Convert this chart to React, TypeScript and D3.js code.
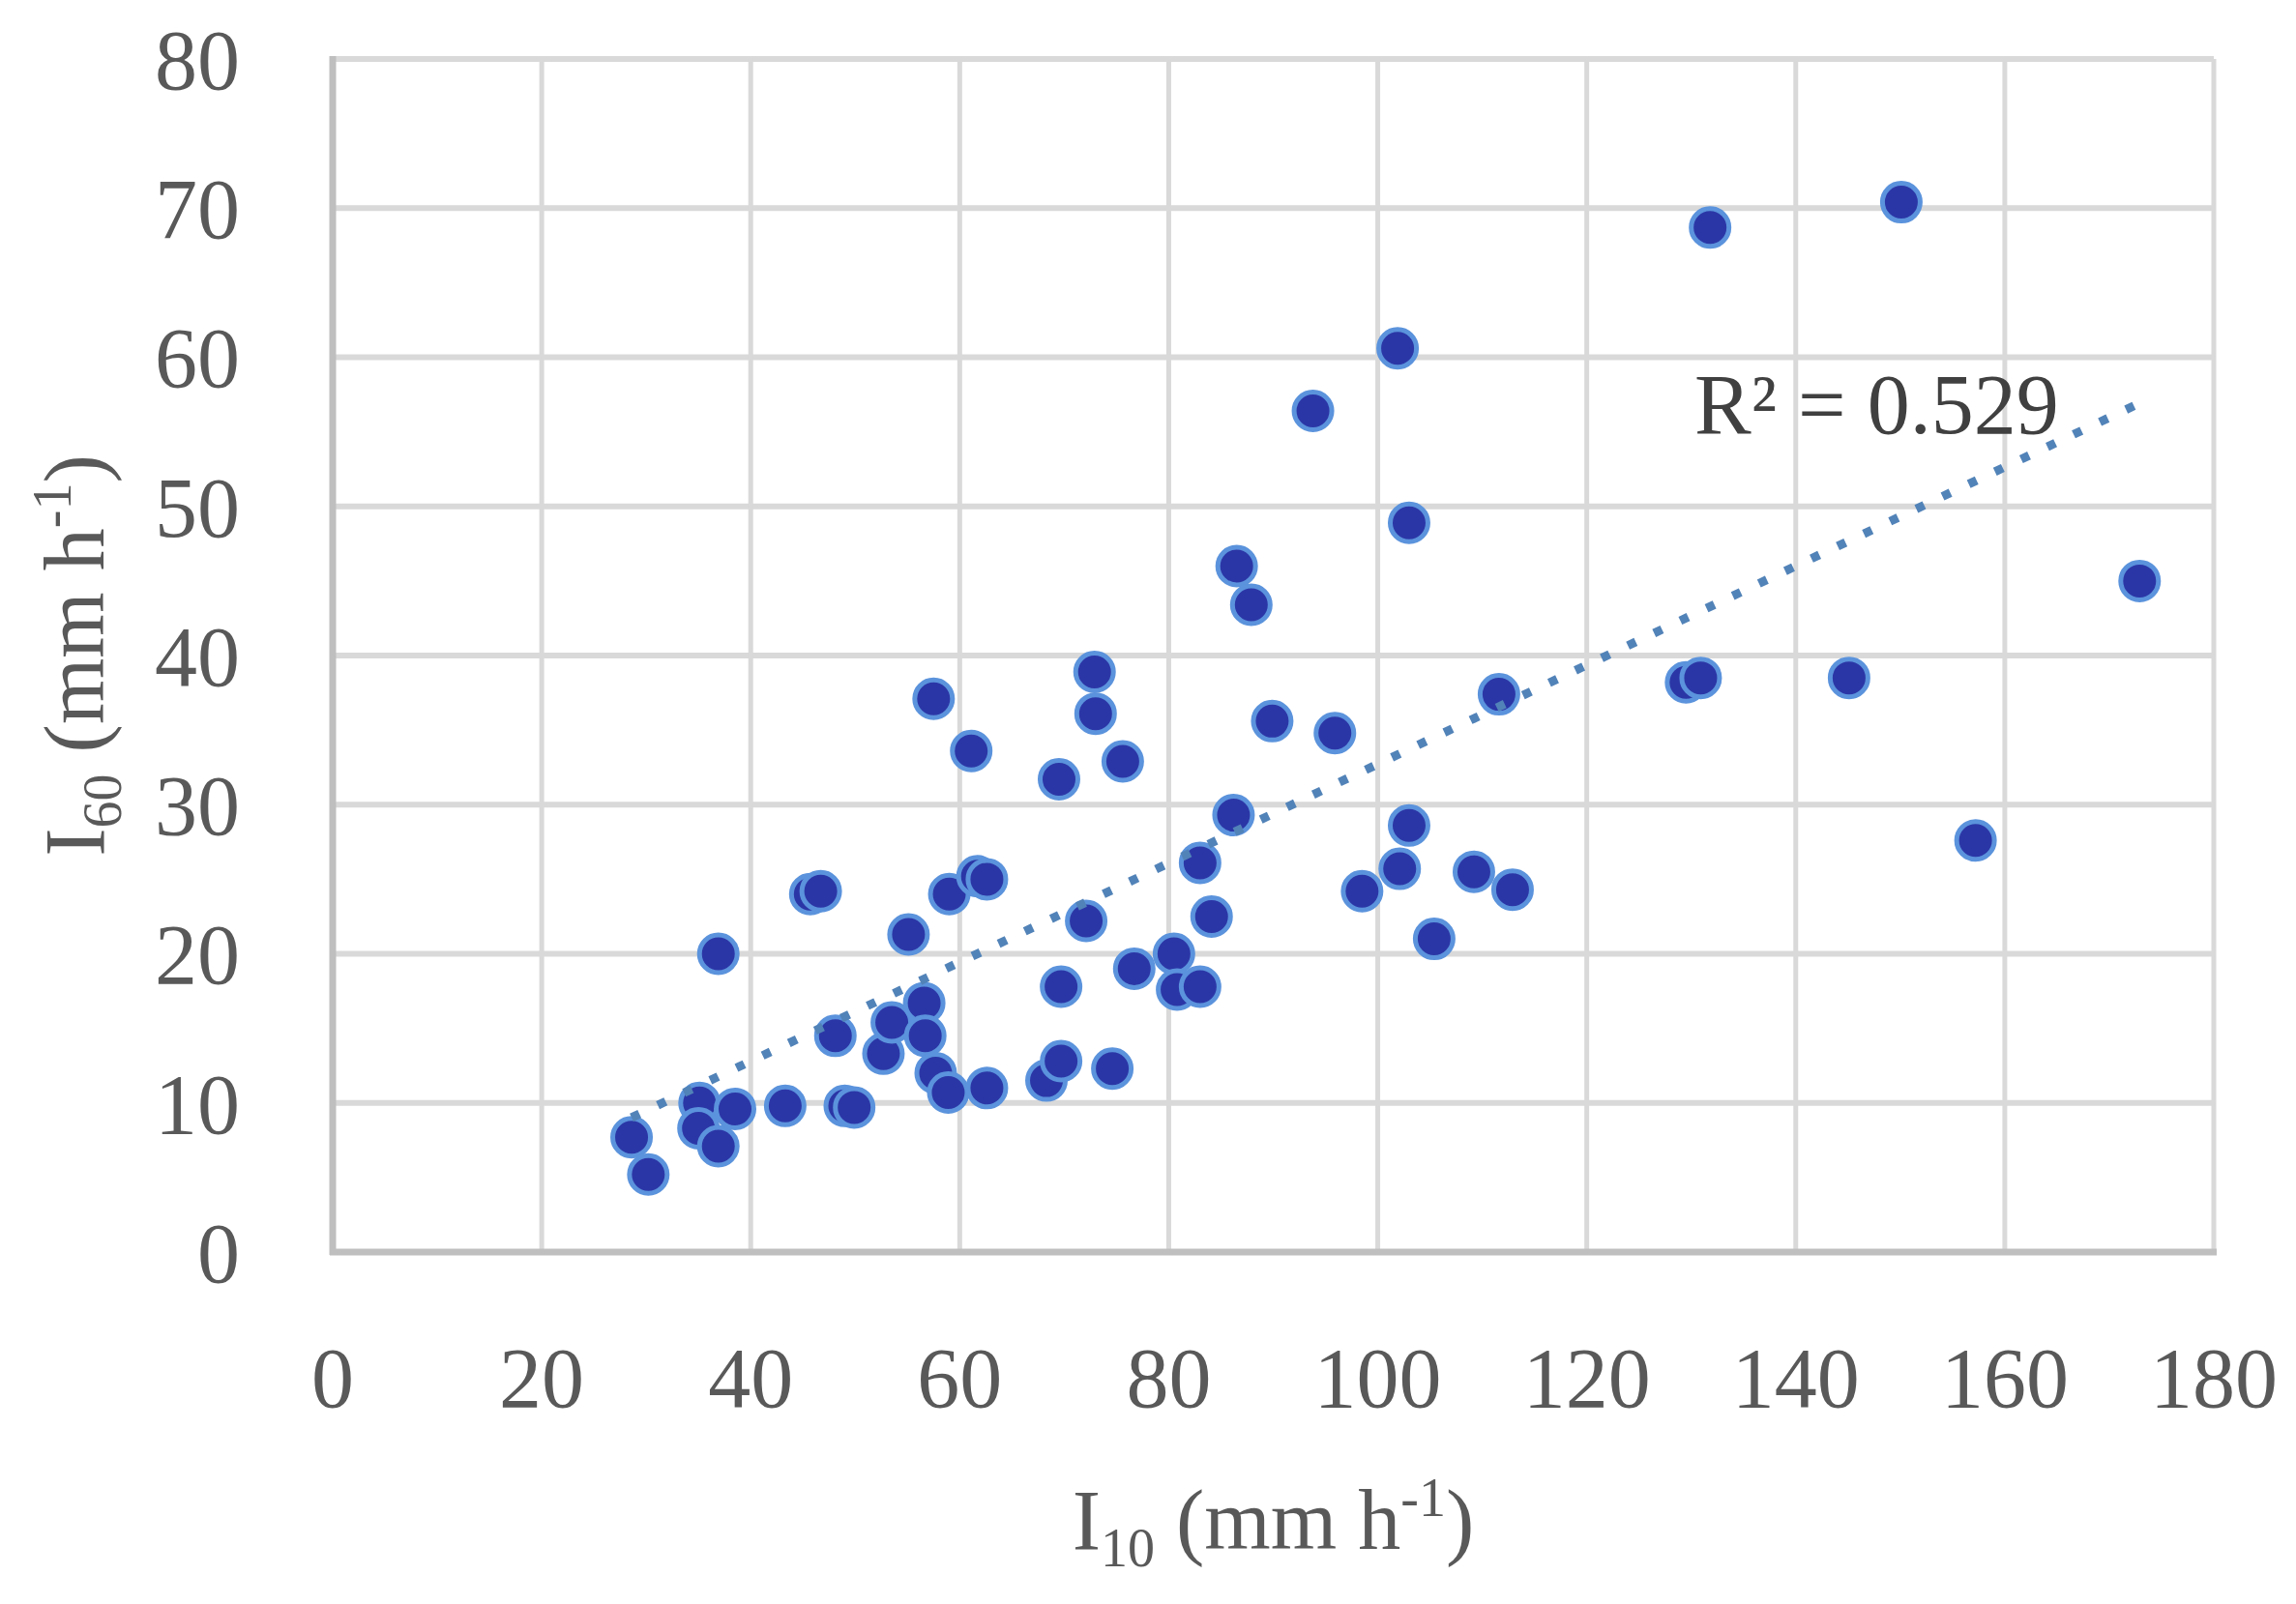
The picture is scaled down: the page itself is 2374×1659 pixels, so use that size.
import * as d3 from 'd3';

const WIDTH = 2374;
const HEIGHT = 1659;
const MARGIN = { top: 61, right: 85, bottom: 364, left: 344 };

// I10 (mm h-1) of each event
const i10Values = [
  28.6, 30.2, 35.1, 35.0, 36.9, 38.5, 36.9, 43.3, 45.7, 46.7,
  48.1, 49.0, 49.9, 52.7, 53.5, 55.1, 56.6, 56.7, 57.7, 57.5,
  58.9, 59.0, 61.1, 61.7, 62.6, 62.6, 68.3, 69.5, 69.7, 69.7,
  72.1, 72.9, 73.0, 74.6, 75.6, 76.7, 80.5, 80.8, 83.0, 83.0,
  84.1, 86.2, 86.5, 87.9, 89.9, 93.8, 95.9, 98.5, 101.9, 102.1,
  103.0, 103.0, 105.4, 109.2, 111.6, 112.9, 129.5, 130.9, 131.8, 145.1,
  150.1, 157.2, 172.9,
];

// I60 (mm h-1) of the same events
const i60Values = [
  7.7, 5.2, 10.0, 8.3, 7.1, 9.6, 20.0, 9.8, 24.0, 24.2,
  14.5, 9.8, 9.7, 13.3, 15.4, 21.3, 16.7, 14.5, 12.0, 37.1,
  10.7, 24.0, 33.6, 25.2, 25.0, 11.0, 11.5, 31.7, 17.8, 12.8,
  22.2, 38.9, 36.1, 12.3, 32.9, 19.0, 20.0, 17.6, 17.8, 26.1,
  22.5, 29.3, 46.0, 43.4, 35.6, 56.4, 34.8, 24.2, 60.6, 25.7,
  48.9, 28.6, 21.0, 25.5, 37.4, 24.3, 38.2, 38.5, 68.7, 38.5,
  70.4, 27.6, 45.0,
];

const xTicks = [0, 20, 40, 60, 80, 100, 120, 140, 160, 180];
const yTicks = [0, 10, 20, 30, 40, 50, 60, 70, 80];
const r2Label = 'R² = 0.529';

// linear trendline (y = a*x + b)
const trendSlope = 0.332;
const trendIntercept = -0.48;

const FONT = '"Palatino Linotype", "Book Antiqua", Palatino, "Liberation Serif", serif';

export default function App() {
  const xScale = d3
    .scaleLinear()
    .domain([0, 180])
    .range([MARGIN.left, WIDTH - MARGIN.right]);
  const yScale = d3
    .scaleLinear()
    .domain([0, 80])
    .range([HEIGHT - MARGIN.bottom, MARGIN.top]);

  const points = i10Values.map((x, i) => ({ x, y: i60Values[i] }));

  const [xMin, xMax] = d3.extent(i10Values) as [number, number];
  const trendPath = d3
    .line<number>()
    .x((d) => xScale(d))
    .y((d) => yScale(trendSlope * d + trendIntercept))([xMin, xMax]);

  const x0 = xScale(0);
  const x1 = xScale(180);
  const y0 = yScale(0);
  const y1 = yScale(80);

  return (
    <svg
      width={WIDTH}
      height={HEIGHT}
      style={{ position: 'absolute', left: 0, top: 0, background: '#fff' }}
    >
      {/* grid */}
      {yTicks.map((t) => (
        <line key={'gy' + t} x1={x0} x2={x1} y1={yScale(t)} y2={yScale(t)} stroke="#d9d9d9" strokeWidth={6} />
      ))}
      {xTicks.map((t) => (
        <line key={'gx' + t} x1={xScale(t)} x2={xScale(t)} y1={y1} y2={y0} stroke="#d9d9d9" strokeWidth={5} />
      ))}
      {/* axis lines */}
      <line x1={x0} x2={x0} y1={y1 - 3} y2={y0 + 3} stroke="#bfbfbf" strokeWidth={7} />
      <line x1={x0 - 3} x2={x1 + 3} y1={y0} y2={y0} stroke="#bfbfbf" strokeWidth={7} />

      {/* markers */}
      {points.map((p, i) => (
        <circle
          key={i}
          cx={xScale(p.x)}
          cy={yScale(p.y)}
          r={19.5}
          fill="#2b36a6"
          stroke="#5b93dc"
          strokeWidth={5}
        />
      ))}

      {/* trend line */}
      <path d={trendPath!} fill="none" stroke="#5283b8" strokeWidth={9} strokeDasharray="9 21" />

      {/* tick labels */}
      {xTicks.map((t) => (
        <text
          key={'tx' + t}
          x={xScale(t)}
          y={1455}
          textAnchor="middle"
          fontFamily={FONT}
          fontSize={88}
          fill="#595959"
        >
          {t}
        </text>
      ))}
      {yTicks.map((t) => (
        <text
          key={'ty' + t}
          x={248}
          y={yScale(t)}
          dy="0.35em"
          textAnchor="end"
          fontFamily={FONT}
          fontSize={88}
          fill="#595959"
        >
          {t}
        </text>
      ))}

      {/* axis titles */}
      <text x={(x0 + x1) / 2} y={1602} textAnchor="middle" fontFamily={FONT} fontSize={88} fill="#595959">
        I<tspan fontSize={56} dy={18}>10</tspan>
        <tspan dy={-18}> (mm h</tspan>
        <tspan fontSize={56} dy={-34}>-1</tspan>
        <tspan dy={34}>)</tspan>
      </text>
      <text
        transform={`translate(107,${(y0 + y1) / 2}) rotate(-90)`}
        textAnchor="middle"
        fontFamily={FONT}
        fontSize={88}
        fill="#595959"
      >
        I<tspan fontSize={56} dy={18}>60</tspan>
        <tspan dy={-18}> (mm h</tspan>
        <tspan fontSize={56} dy={-34}>-1</tspan>
        <tspan dy={34}>)</tspan>
      </text>

      {/* r squared label */}
      <text x={1752} y={448} fontFamily={FONT} fontSize={88} fill="#404040">
        {r2Label}
      </text>
    </svg>
  );
}
